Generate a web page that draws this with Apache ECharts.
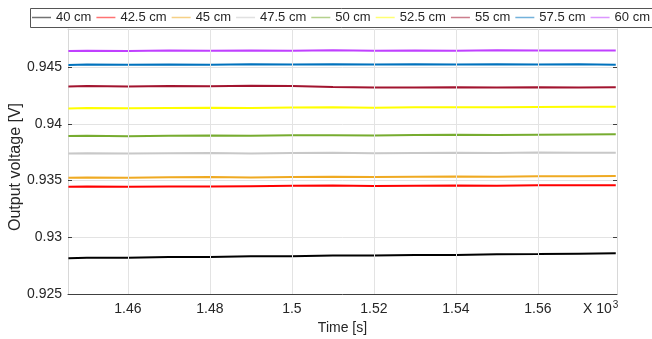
<!DOCTYPE html>
<html>
<head>
<meta charset="utf-8">
<script src="https://cdn.jsdelivr.net/npm/echarts@6/dist/echarts.min.js"></script>
<style>
  html, body { margin: 0; padding: 0; background: #fff; }
  #chart { width: 652px; height: 339px; }
</style>
</head>
<body>
<div id="chart"></div>
<script>
// time in seconds (axis shows x 10^3)
const time = [1445.5, 1450, 1460, 1470, 1480, 1490, 1500, 1510, 1520, 1530, 1540, 1550, 1560, 1570, 1579];

const names = ['40 cm', '42.5 cm', '45 cm', '47.5 cm', '50 cm', '52.5 cm', '55 cm', '57.5 cm', '60 cm'];
const colors = ['#000000', '#ff0000', '#efaa22', '#c8c8c8', '#77ac30', '#ffff00', '#a2142f', '#0072bd', '#c040ff'];

const v40   = [0.92815, 0.92819, 0.92820, 0.92826, 0.92827, 0.92832, 0.92834, 0.92839, 0.92840, 0.92845, 0.92844, 0.92850, 0.92852, 0.92856, 0.92859];
const v42_5 = [0.93446, 0.93448, 0.93445, 0.93449, 0.93447, 0.93450, 0.93454, 0.93456, 0.93453, 0.93455, 0.93457, 0.93454, 0.93458, 0.93458, 0.93459];
const v45   = [0.93526, 0.93528, 0.93525, 0.93529, 0.93531, 0.93528, 0.93532, 0.93534, 0.93531, 0.93535, 0.93537, 0.93534, 0.93538, 0.93539, 0.93541];
const v47_5 = [0.93740, 0.93742, 0.93739, 0.93741, 0.93743, 0.93740, 0.93743, 0.93745, 0.93742, 0.93744, 0.93746, 0.93744, 0.93747, 0.93745, 0.93746];
const v50   = [0.93893, 0.93895, 0.93892, 0.93896, 0.93898, 0.93895, 0.93899, 0.93901, 0.93898, 0.93902, 0.93904, 0.93902, 0.93905, 0.93907, 0.93908];
const v52_5 = [0.94137, 0.94140, 0.94138, 0.94141, 0.94143, 0.94140, 0.94144, 0.94146, 0.94143, 0.94147, 0.94148, 0.94146, 0.94149, 0.94151, 0.94152];
const v55   = [0.94331, 0.94334, 0.94331, 0.94335, 0.94333, 0.94336, 0.94334, 0.94325, 0.94322, 0.94320, 0.94323, 0.94321, 0.94324, 0.94322, 0.94323];
const v57_5 = [0.94520, 0.94523, 0.94521, 0.94525, 0.94522, 0.94526, 0.94523, 0.94527, 0.94524, 0.94527, 0.94525, 0.94527, 0.94525, 0.94526, 0.94522];
const v60   = [0.94644, 0.94646, 0.94643, 0.94647, 0.94645, 0.94648, 0.94646, 0.94649, 0.94646, 0.94648, 0.94646, 0.94649, 0.94647, 0.94648, 0.94647];

const xTicks = [1460, 1480, 1500, 1520, 1540, 1560];
const yTicks = [0.925, 0.93, 0.935, 0.94, 0.945];

const seriesValues = [v40, v42_5, v45, v47_5, v50, v52_5, v55, v57_5, v60];

const xMin = 1445.4, xMax = 1579.3;
const yMin = 0.925, yMax = 0.94837;

const font = 'Liberation Sans, Arial, sans-serif';
const txt = '#262626';

const chart = echarts.init(document.getElementById('chart'));

const lines = seriesValues.map((vals, i) => ({
  name: names[i],
  type: 'line',
  symbol: 'none',
  z: 3,
  lineStyle: { color: colors[i], width: 2 },
  itemStyle: { color: colors[i] },
  data: time.map((t, j) => [t, vals[j]])
}));

// vertical grid lines at tick positions
lines.push({
  name: 'grid',
  type: 'line',
  data: [],
  z: 1,
  markLine: {
    silent: true,
    symbol: ['none', 'none'],
    label: { show: false },
    lineStyle: { color: '#e3e3e3', type: 'solid', width: 1 },
    data: xTicks.map(v => ({ xAxis: v }))
  }
});

chart.setOption({
  backgroundColor: '#fff',
  animation: false,
  grid: { left: 68, right: 35, top: 29, bottom: 45, containLabel: false, outerBoundsMode: 'none' },
  legend: {
    data: names,
    left: 32,
    top: 10,
    width: 700,
    padding: 0,
    itemGap: 5,
    itemWidth: 19,
    itemHeight: 1.5,
    icon: 'rect',
    itemStyle: { opacity: 0.55 },
    textStyle: { fontFamily: font, fontSize: 13, color: txt, lineHeight: 15 }
  },
  xAxis: [{
    type: 'value',
    min: xMin,
    max: xMax,
    position: 'bottom',
    name: 'Time [s]',
    nameLocation: 'middle',
    nameGap: 24,
    nameTextStyle: { fontFamily: font, fontSize: 14, color: txt },
    axisLine: { lineStyle: { color: '#404040' } },
    axisTick: { inside: true, length: 4, customValues: xTicks, lineStyle: { color: '#404040' } },
    axisLabel: {
      customValues: xTicks,
      fontFamily: font, fontSize: 14, color: txt, margin: 8,
      formatter: v => String(+(v / 1000).toFixed(2))
    },
    splitLine: { show: false }
  }, {
    type: 'value',
    min: xMin,
    max: xMax,
    position: 'top',
    axisLine: { lineStyle: { color: '#d8d8d8' } },
    axisTick: { inside: true, length: 4, customValues: xTicks, lineStyle: { color: '#404040' } },
    axisLabel: { show: false },
    splitLine: { show: false }
  }],
  yAxis: [{
    type: 'value',
    min: yMin,
    max: yMax,
    interval: 0.005,
    position: 'left',
    name: 'Output voltage [V]',
    nameLocation: 'middle',
    nameGap: 44,
    nameMoveOverlap: false,
    nameTextStyle: { fontFamily: font, fontSize: 16, color: txt, padding: [0, 11, 0, 0] },
    axisLine: { show: true, lineStyle: { color: '#d8d8d8' } },
    axisTick: { show: true, inside: true, length: 4, customValues: yTicks, lineStyle: { color: '#404040' } },
    axisLabel: {
      customValues: yTicks,
      fontFamily: font, fontSize: 14, color: txt, margin: 6,
      formatter: v => String(+v.toFixed(3))
    },
    splitLine: { show: true, lineStyle: { color: '#e3e3e3' } }
  }, {
    type: 'value',
    min: yMin,
    max: yMax,
    interval: 0.005,
    position: 'right',
    axisLine: { show: true, lineStyle: { color: '#d8d8d8' } },
    axisTick: { show: true, inside: true, length: 4, customValues: yTicks, lineStyle: { color: '#404040' } },
    axisLabel: { show: false },
    splitLine: { show: false }
  }],
  graphic: [{
    type: 'rect',
    shape: { x: 30.5, y: 8.5, width: 700, height: 19 },
    style: { fill: 'none', stroke: '#555', lineWidth: 1 },
    z: 10
  }, {
    type: 'text',
    x: 583,
    y: 300,
    style: {
      text: '{a|X 10}{b|3}',
      rich: {
        a: { fontFamily: font, fontSize: 14, fill: txt, verticalAlign: 'bottom', lineHeight: 16 },
        b: { fontFamily: font, fontSize: 10, fill: txt, verticalAlign: 'top', lineHeight: 16, padding: [0, 0, 8, 1] }
      }
    }
  }],
  series: lines
});
</script>
</body>
</html>
